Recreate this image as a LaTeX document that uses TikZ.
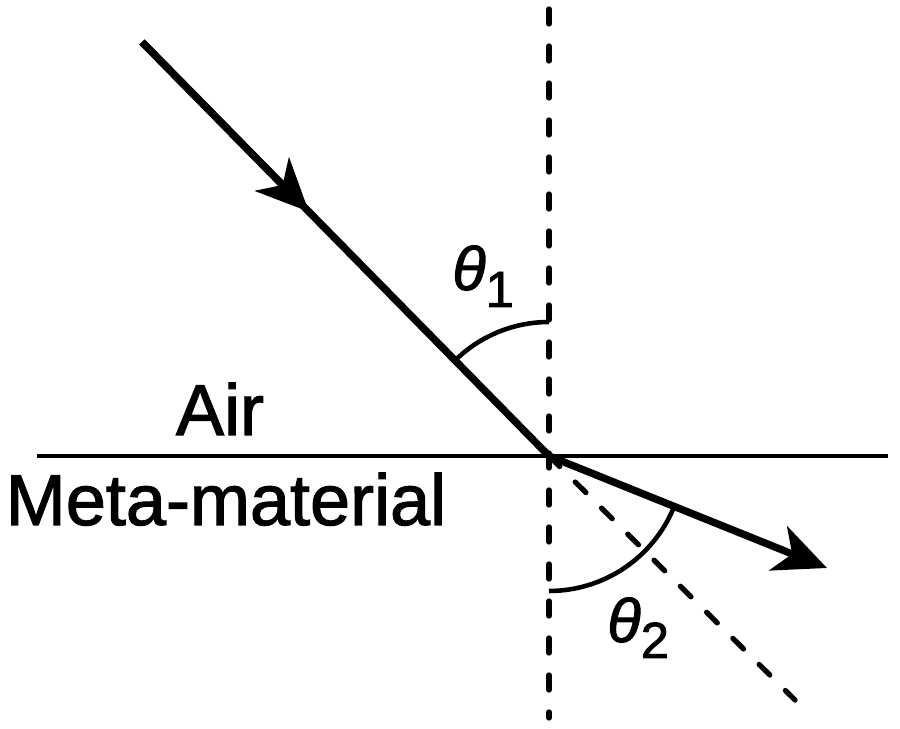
\documentclass[tikz,border=0pt]{standalone}
\usepackage{fontspec}
\setmainfont{Liberation Sans}
\newfontfamily\heavysans[FakeBold=1.6]{Liberation Sans}
\usetikzlibrary{arrows.meta, calc}

\begin{document}
\begin{tikzpicture}[
    ray/.style={line width=4.2pt},
    interface/.style={line width=2.8pt},
    normalline/.style={line width=3pt, dash pattern=on 0.30cm off 0.44cm, line cap=round},
    anglearc/.style={line width=2.6pt},
    bigtip/.style={-{Stealth[length=1.05cm, width=0.95cm, inset=0.3cm]}},
    medium/.style={font=\heavysans\fontsize{41}{45}\selectfont, inner sep=0pt, anchor=base},
    anglelabel/.style={font=\heavysans\fontsize{35}{38}\selectfont, inner sep=0pt, anchor=base west}
]
    \useasboundingbox (0,0) rectangle (18,14.58);

    % Key points
    \coordinate (O) at (10.98,5.46);
    \coordinate (src) at (2.84,13.74);
    \coordinate (dst) at (16.54,3.22);
    \coordinate (ntop) at (10.98,14.40);
    \coordinate (nbot) at (10.98,0.22);
    \coordinate (ifleft) at (0.74,5.46);
    \coordinate (ifright) at (17.76,5.46);
    \coordinate (ext) at (15.90,0.58);
    \coordinate (mid) at ($(src)!0.41!(O)$);

    % Interface and normal
    \draw[interface] (ifleft) -- (ifright);
    \draw[normalline] (ntop) -- (nbot);

    % Incident ray (arrow half way) and its dashed continuation
    \draw[ray] (src) -- (O);
    \draw[ray, bigtip] (src) -- (mid);
    \draw[normalline] (O) -- (ext);

    % Refracted ray
    \draw[ray, bigtip] (O) -- (dst);

    % Angles
    \draw[anglearc] ($(O)+(90:2.68)$) arc[start angle=90, end angle=134.5, radius=2.68];
    \draw[anglearc] ($(O)+(270:2.7)$) arc[start angle=270, end angle=338, radius=2.7];

    \node[anglelabel] (theta1) at (9.04,8.78) {\itshape θ\upshape\raisebox{-0.34cm}{\fontsize{29}{32}\selectfont 1}};
    \node[anglelabel] (theta2) at (12.14,1.74) {\itshape θ\upshape\raisebox{-0.32cm}{\fontsize{29}{32}\selectfont 2}};

    % Media
    \node[medium] (air) at (4.40,5.88) {Air};
    \node[medium] (meta) at (4.52,4.08) {Meta-material};
\end{tikzpicture}
\end{document}
